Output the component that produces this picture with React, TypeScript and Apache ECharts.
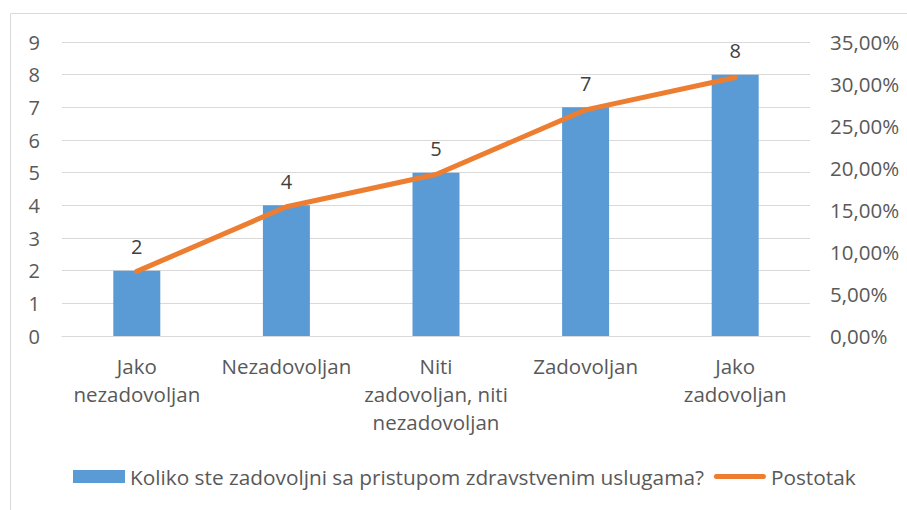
import React, { useEffect, useRef } from "react";
import * as echarts from "echarts";

const categories = [
  "Jako\nnezadovoljan",
  "Nezadovoljan",
  "Niti\nzadovoljan, niti\nnezadovoljan",
  "Zadovoljan",
  "Jako\nzadovoljan",
];
const counts = [2, 4, 5, 7, 8];
const percents = [7.69, 15.38, 19.23, 26.92, 30.77];
const barName = "Koliko ste zadovoljni sa pristupom zdravstvenim uslugama?";
const lineName = "Postotak";

const FONT = "Open Sans";
const TEXT = "#595959";

export default function App() {
  const ref = useRef<HTMLDivElement>(null);
  useEffect(() => {
    if (!ref.current) return;
    const chart = echarts.init(ref.current, null, { renderer: "svg" });
    chart.setOption({
      animation: false,
      textStyle: { fontFamily: FONT, color: TEXT },
      graphic: [
        {
          type: "rect",
          shape: { x: 10.5, y: 13.5, width: 1000, height: 600 },
          style: { fill: "none", stroke: "#D9D9D9", lineWidth: 1 },
          silent: true,
        },
      ],
      legend: {
        bottom: 18,
        left: 68,
        itemGap: 10,
        itemWidth: 52,
        itemHeight: 13,
        symbolKeepAspect: true,
        textStyle: { fontFamily: FONT, fontSize: 20.8, color: TEXT },
        data: [
          { name: barName, icon: "rect" },
          {
            name: lineName,
            icon: "path://M2.5,0 H49.5 A2.5,2.5 0 0 1 49.5,5 H2.5 A2.5,2.5 0 0 1 2.5,0 Z",
            itemStyle: { color: "#ED7D31" },
          },
        ],
      },
      grid: { left: 62, right: 97, top: 42, bottom: 174 },
      xAxis: {
        type: "category",
        data: categories,
        axisTick: { show: false },
        axisLine: { lineStyle: { color: "#D9D9D9", width: 1 } },
        axisLabel: {
          interval: 0,
          fontFamily: FONT,
          fontSize: 20.5,
          color: TEXT,
          lineHeight: 28,
          margin: 16,
        },
      },
      yAxis: [
        {
          type: "value",
          min: 0,
          max: 9,
          interval: 1,
          axisLine: { show: false },
          axisTick: { show: false },
          splitLine: { lineStyle: { color: "#D9D9D9", width: 1 } },
          axisLabel: { fontFamily: FONT, fontSize: 20, color: TEXT, margin: 22 },
        },
        {
          type: "value",
          min: 0,
          max: 35,
          interval: 5,
          axisLine: { show: false },
          axisTick: { show: false },
          splitLine: { show: false },
          axisLabel: {
            fontFamily: FONT,
            fontSize: 20.5,
            color: TEXT,
            margin: 20,
            formatter: (v: number) => v.toFixed(2).replace(".", ",") + "%",
          },
        },
      ],
      series: [
        {
          name: barName,
          type: "bar",
          data: counts,
          barWidth: 47,
          itemStyle: { color: "#5B9BD5" },
          label: {
            show: true,
            position: "top",
            distance: 14,
            fontFamily: FONT,
            fontSize: 20,
            color: "#404040",
          },
          z: 2,
        },
        {
          name: lineName,
          type: "line",
          yAxisIndex: 1,
          data: percents,
          symbol: "none",
          lineStyle: { color: "#ED7D31", width: 5, cap: "round", join: "round" },
          itemStyle: { color: "#ED7D31" },
          z: 3,
        },
      ],
    });
    return () => chart.dispose();
  }, []);
  return (
    <div
      ref={ref}
      style={{ position: "fixed", left: 0, top: 0, width: 907, height: 510, background: "#fff" }}
    />
  );
}
